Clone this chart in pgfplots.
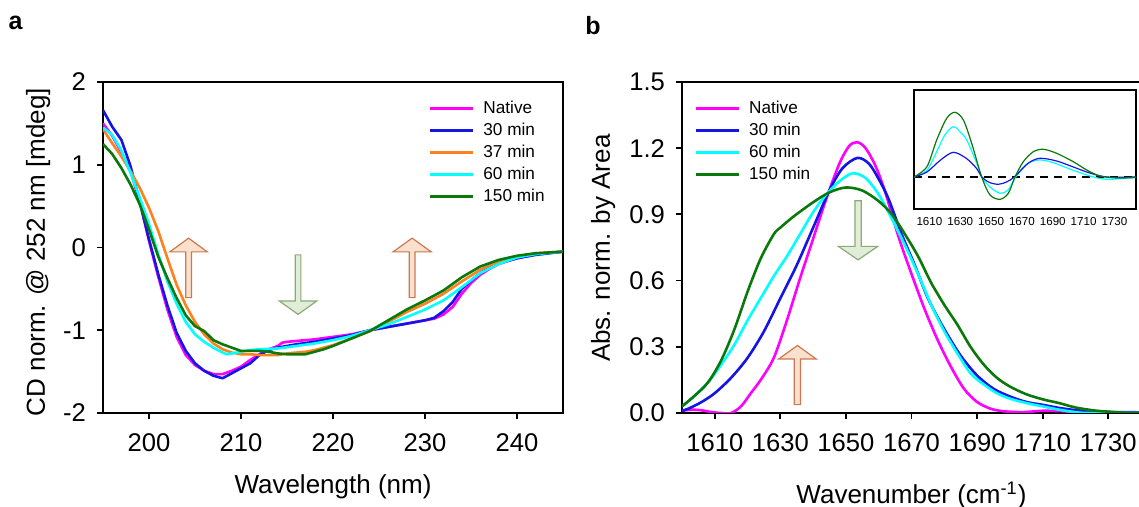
\documentclass[border=0pt]{standalone}
\usepackage{fontspec}
\setmainfont{Liberation Sans}
\usepackage{pgfplots}
\pgfplotsset{compat=1.18}

\definecolor{cNat}{RGB}{255,0,255}
\definecolor{c30}{RGB}{20,20,230}
\definecolor{c37}{RGB}{255,128,30}
\definecolor{c60}{RGB}{0,255,255}
\definecolor{c150}{RGB}{10,120,10}
\definecolor{arrO}{RGB}{205,120,80}
\definecolor{arrOf}{RGB}{250,225,205}
\definecolor{arrG}{RGB}{140,170,120}
\definecolor{arrGf}{RGB}{225,238,215}

% up / down block arrows in axis units: centre x, shaft half, head half, tail y, head base y, tip y
\newcommand{\blockarrow}[8]{%
  \draw[#7,fill=#8,line width=0.6pt,line join=miter]
    (axis cs:#1-#2,#4) -- (axis cs:#1-#2,#5) -- (axis cs:#1-#3,#5) -- (axis cs:#1,#6)
    -- (axis cs:#1+#3,#5) -- (axis cs:#1+#2,#5) -- (axis cs:#1+#2,#4) -- cycle;}

\pgfplotsset{
  panel/.style={
    scale only axis, width=230pt, height=165.5pt,
    axis line style={line width=1.1pt},
    tick style={line width=0.9pt,black},
    major tick length=3pt, tick align=outside,
    xtick pos=left, ytick pos=left,
    /pgf/number format/assume math mode=true,
    /pgf/number format/1000 sep={},
    tick label style={font=\fontsize{12.8}{14}\selectfont},
    label style={font=\fontsize{13}{15}\selectfont},
    xticklabel style={yshift=-4pt},
    yticklabel style={xshift=-2pt},
    legend style={draw=none,fill=none,font=\fontsize{8.6}{10}\selectfont,
      inner sep=0pt,row sep=3pt,column sep=4.5pt,
      nodes={inner sep=0pt,text height=6.4pt,text depth=1.6pt,anchor=west}},
    legend cell align=left,
    legend image code/.code={\draw[#1,line width=1.4pt] (0pt,0pt) -- (21.5pt,0pt);},
    every axis plot/.append style={line width=1.3pt,line join=round},
  },
}

\begin{document}
\begin{tikzpicture}
\useasboundingbox (0,0) rectangle (569.5pt,253.5pt);
\node[font=\bfseries\fontsize{12.5}{14}\selectfont] at (7.75pt,242pt) {a};
\node[font=\bfseries\fontsize{12.5}{14}\selectfont] at (296.5pt,240.5pt) {b};

% ---------------- panel a: CD ----------------
\begin{axis}[panel, at={(51.5pt,47pt)}, anchor=south west,
  xmin=195, xmax=245, ymin=-2, ymax=2,
  xtick={200,210,220,230,240}, ytick={-2,-1,0,1,2},
  xlabel={Wavelength (nm)}, ylabel={CD norm. @ 252 nm [mdeg]},
  xlabel style={at={(axis description cs:0.5,-0.224)},anchor=center},
  ylabel style={at={(axis description cs:-0.141,0.486)},anchor=center},
  legend style={at={(0.707,0.946)},anchor=north west},
]
\addplot[cNat] coordinates {
(195,1.50)(196,1.35)(197,1.15)(198,0.92)(199,0.55)(200,0.08)(201,-0.35)(202,-0.75)
(203,-1.08)(204,-1.30)(205,-1.42)(206,-1.49)(207,-1.53)(208,-1.53)(209,-1.49)(210,-1.44)
(211,-1.36)(212,-1.29)(213,-1.23)(214,-1.19)(214.5,-1.15)(215,-1.14)(216,-1.13)(218,-1.11)
(220,-1.08)(222,-1.05)(224,-1.00)(226,-0.96)(228,-0.92)(230,-0.88)(231,-0.86)(232,-0.81)
(233,-0.72)(234,-0.56)(235,-0.43)(236,-0.33)(237,-0.26)(238,-0.20)(240,-0.13)(242,-0.08)(245,-0.05)};
\addlegendentry{Native}
\addplot[c30] coordinates {
(195,1.66)(196,1.46)(197,1.30)(198,0.98)(199,0.55)(200,0.10)(201,-0.32)(202,-0.70)
(203,-1.03)(204,-1.25)(205,-1.40)(206,-1.49)(207,-1.55)(208,-1.58)(209,-1.52)(210,-1.46)
(211,-1.40)(212,-1.30)(213,-1.24)(214,-1.21)(215,-1.19)(216,-1.17)(218,-1.14)(220,-1.10)
(222,-1.06)(224,-1.00)(226,-0.96)(228,-0.92)(230,-0.88)(231,-0.85)(232,-0.77)(233,-0.66)
(234,-0.50)(235,-0.40)(236,-0.31)(237,-0.24)(238,-0.19)(240,-0.13)(242,-0.09)(245,-0.05)};
\addlegendentry{30 min}
\addplot[c37] coordinates {
(195,1.43)(196,1.26)(197,1.10)(198,0.92)(199,0.72)(200,0.48)(201,0.20)(202,-0.13)
(203,-0.45)(204,-0.70)(205,-0.90)(206,-1.05)(207,-1.16)(208,-1.23)(209,-1.27)(210,-1.29)
(211,-1.29)(212,-1.30)(213,-1.30)(214,-1.30)(215,-1.28)(216,-1.27)(217,-1.26)(218,-1.24)
(219,-1.21)(220,-1.18)(222,-1.10)(224,-1.01)(226,-0.90)(228,-0.78)(230,-0.68)(232,-0.56)
(234,-0.41)(236,-0.27)(238,-0.17)(240,-0.11)(242,-0.07)(245,-0.05)};
\addlegendentry{37 min}
\addplot[c60] coordinates {
(195,1.45)(196,1.36)(197,1.17)(198,0.90)(199,0.60)(200,0.28)(201,-0.08)(202,-0.41)
(203,-0.68)(204,-0.90)(205,-1.05)(206,-1.14)(207,-1.21)(208,-1.27)(208.5,-1.29)(209,-1.28)
(210,-1.26)(211,-1.24)(212,-1.23)(214,-1.22)(216,-1.19)(218,-1.16)(220,-1.12)(222,-1.07)
(224,-1.00)(226,-0.93)(228,-0.84)(230,-0.75)(232,-0.64)(234,-0.48)(236,-0.31)(238,-0.20)
(240,-0.12)(242,-0.08)(245,-0.05)};
\addlegendentry{60 min}
\addplot[c150] coordinates {
(195,1.25)(196,1.13)(197,0.96)(198,0.76)(199,0.52)(200,0.22)(201,-0.11)(202,-0.37)
(203,-0.61)(204,-0.82)(205,-0.95)(206,-1.01)(207,-1.12)(208,-1.17)(209,-1.21)(210,-1.25)
(211,-1.25)(212,-1.25)(213,-1.26)(214,-1.28)(215,-1.29)(216,-1.29)(217,-1.29)(218,-1.26)
(219,-1.23)(220,-1.19)(222,-1.10)(224,-1.01)(226,-0.88)(228,-0.75)(230,-0.64)(232,-0.52)
(234,-0.36)(236,-0.23)(238,-0.15)(240,-0.10)(242,-0.07)(245,-0.05)};
\addlegendentry{150 min}
\blockarrow{204.3}{0.31}{2.04}{-0.606}{-0.053}{0.113}{arrO}{arrOf}
\blockarrow{228.6}{0.31}{2.08}{-0.606}{-0.053}{0.113}{arrO}{arrOf}
\blockarrow{216.2}{0.31}{2.04}{-0.089}{-0.646}{-0.808}{arrG}{arrGf}
\end{axis}

% ---------------- panel b: FTIR ----------------
\begin{axis}[panel, at={(341pt,47pt)}, anchor=south west, width=229.5pt,
  xmin=1600, xmax=1740, ymin=0, ymax=1.5,
  xtick={1610,1630,...,1730}, ytick={0,0.3,...,1.5},
  yticklabel style={/pgf/number format/.cd,fixed,fixed zerofill,precision=1},
  xlabel={Wavenumber (cm\textsuperscript{-1})}, ylabel={Abs. norm. by Area},
  xlabel style={at={(axis description cs:0.5,-0.248)},anchor=center},
  ylabel style={at={(axis description cs:-0.172,0.498)},anchor=center},
  legend style={at={(0.026,0.946)},anchor=north west},
]
\addplot[cNat,smooth] coordinates {
(1600,0.01)(1603,0.015)(1606,0.012)(1609,0.004)(1612,0.0)(1615,0.0)(1618,0.03)(1621,0.09)
(1624,0.15)(1628,0.25)(1632,0.42)(1636,0.61)(1640,0.79)(1644,0.97)(1648,1.13)(1651,1.21)
(1653.5,1.227)(1656,1.20)(1659,1.12)(1662,1.00)(1666,0.80)(1670,0.63)(1674,0.47)(1678,0.33)
(1682,0.21)(1686,0.11)(1690,0.05)(1694,0.02)(1698,0.008)(1704,0.004)(1710,0.01)(1716,0.008)
(1722,0.002)(1730,0.0)(1740,0.0)};
\addlegendentry{Native}
\addplot[c30,smooth] coordinates {
(1600,0.01)(1602,0.02)(1606,0.05)(1610,0.09)(1615,0.16)(1620,0.25)(1625,0.37)(1630,0.52)
(1635,0.67)(1640,0.84)(1645,1.01)(1649,1.11)(1653.5,1.156)(1657,1.13)(1660,1.06)(1663,0.97)
(1667,0.81)(1671,0.67)(1675,0.52)(1680,0.38)(1685,0.26)(1690,0.17)(1695,0.11)(1700,0.075)
(1705,0.05)(1710,0.037)(1715,0.023)(1720,0.013)(1726,0.006)(1732,0.004)(1740,0.003)};
\addlegendentry{30 min}
\addplot[c60,smooth] coordinates {
(1600,0.03)(1604,0.08)(1608,0.14)(1612,0.22)(1616,0.31)(1620,0.42)(1624,0.52)(1628,0.62)
(1632,0.71)(1636,0.81)(1640,0.91)(1644,0.99)(1648,1.05)(1652,1.086)(1656,1.065)(1660,0.99)
(1664,0.88)(1668,0.76)(1672,0.63)(1676,0.49)(1680,0.37)(1684,0.27)(1688,0.18)(1692,0.13)
(1696,0.09)(1700,0.065)(1705,0.045)(1710,0.03)(1715,0.015)(1720,0.004)(1724,0.0)(1740,0.0)};
\addlegendentry{60 min}
\addplot[c150,smooth] coordinates {
(1600,0.03)(1604,0.08)(1608,0.14)(1612,0.24)(1616,0.38)(1620,0.55)(1624,0.70)(1628,0.81)
(1630,0.84)(1634,0.89)(1640,0.955)(1645,1.0)(1650,1.022)(1655,1.008)(1660,0.96)(1664,0.90)
(1668,0.81)(1672,0.71)(1676,0.59)(1680,0.49)(1684,0.40)(1688,0.30)(1692,0.22)(1696,0.16)
(1700,0.12)(1705,0.085)(1710,0.062)(1715,0.045)(1720,0.025)(1726,0.011)(1732,0.004)(1736,0.0)(1740,0.0)};
\addlegendentry{150 min}
\blockarrow{1635.2}{0.94}{5.7}{0.038}{0.245}{0.306}{arrO}{arrOf}
\blockarrow{1653.7}{0.94}{6.0}{0.962}{0.755}{0.694}{arrG}{arrGf}
\end{axis}

% ---------------- inset: second derivative ----------------
\begin{axis}[at={(457pt,149pt)}, anchor=south west, scale only axis,
  width=111pt, height=59.5pt,
  xmin=1600, xmax=1744, ymin=-3.2, ymax=8.7,
  axis background/.style={fill=white},
  axis line style={line width=0.6pt},
  xtick={1610,1630,...,1730}, ytick=\empty, major tick length=0pt,
  /pgf/number format/assume math mode=true,
  /pgf/number format/1000 sep={},
  tick label style={font=\fontsize{5.8}{7}\selectfont},
  xticklabel style={yshift=-0.5pt},
  every axis plot/.append style={line width=0.6pt},
]
\addplot[black,dashed,line width=1pt,dash pattern=on 4pt off 3pt] coordinates {(1600,0)(1744,0)};
\addplot[c60,smooth] coordinates {
(1600,0)(1608.4,0.67)(1614.7,2.53)(1620,4.2)(1625.5,5.03)(1630,4.5)(1634.2,3.7)(1640.7,1.37)
(1644,0)(1649.3,-1.0)(1655.8,-1.63)(1661,-1.3)(1666,0)(1674,1.37)(1681.7,1.7)(1690.3,1.43)
(1703.3,0.67)(1716.3,0)(1724.9,-0.23)(1733.6,-0.17)(1742,-0.07)(1744,-0.05)};
\addplot[c30,smooth] coordinates {
(1600,0)(1608.4,0.5)(1617,1.67)(1625.5,2.47)(1634.2,1.83)(1640.7,0.83)(1644,0)(1649,-0.55)
(1654.7,-0.73)(1660,-0.5)(1665,0)(1674,1.37)(1681.7,1.87)(1692.5,1.6)(1703.3,1.0)(1714,0.4)
(1725,0)(1744,0)};
\addplot[c150,smooth] coordinates {
(1600,0)(1608.4,1.03)(1614.7,3.7)(1621.2,5.87)(1626.6,6.47)(1632,5.7)(1637.4,3.37)(1643.9,0)
(1649.3,-1.8)(1655.8,-2.23)(1661.2,-1.63)(1665.5,0)(1670.9,1.53)(1677.4,2.53)(1683.9,2.77)
(1692.5,2.37)(1703.3,1.53)(1712,0.7)(1720.6,0.1)(1731.5,-0.1)(1744,-0.05)};
\end{axis}
\end{tikzpicture}
\end{document}
